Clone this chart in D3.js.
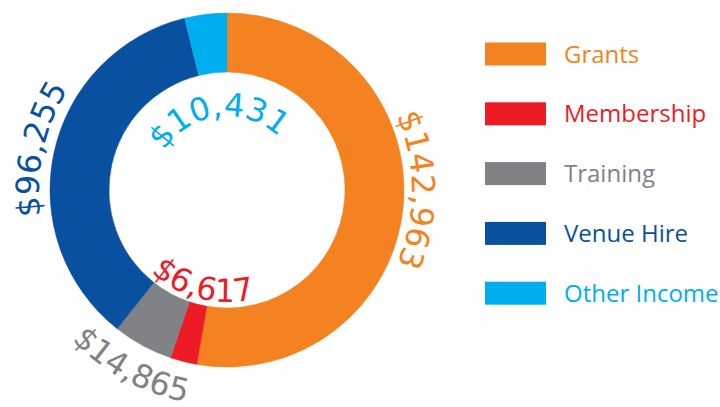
<!DOCTYPE html>
<html>
<head>
<meta charset="utf-8">
<script src="https://cdn.jsdelivr.net/npm/d3@7"></script>
<style>
  html, body { margin: 0; padding: 0; background: #fff; }
  #dataViz { width: 720px; height: 407px; }
</style>
</head>
<body>
<div id="dataViz"></div>
<script>
// Income sources
const categories = ["Grants", "Membership", "Training", "Venue Hire", "Other Income"];
const amounts = [142963, 6617, 14865, 96255, 10431];
const colours = ["#F58220", "#ED1C24", "#808285", "#0A50A1", "#00AEEF"];

const width = 720;
const height = 407;
const centre = { x: 227, y: 190 };
const outerRadius = 177;
const innerRadius = 118;

// where each value label sits: baseline radius, flip for the bottom half, angle nudge (deg)
const labelStyle = [
  { r: 185, flip: false, nudge: -5 },
  { r: 112, flip: true, nudge: 0 },
  { r: 216, flip: true, nudge: 0 },
  { r: 188, flip: false, nudge: 0 },
  { r: 74, flip: false, nudge: 0 }
];

const data = categories.map((c, i) => ({ name: c, value: amounts[i], colour: colours[i] }));

const svg = d3.select("#dataViz").append("svg")
  .attr("width", width)
  .attr("height", height)
  .attr("viewBox", [0, 0, width, height]);

const pie = d3.pie().sort(null).value(d => d.value);
const arc = d3.arc().innerRadius(innerRadius).outerRadius(outerRadius);
const arcs = pie(data);

const g = svg.append("g").attr("transform", `translate(${centre.x}, ${centre.y})`);

g.selectAll(".slice")
  .data(arcs)
  .enter()
  .append("path")
  .attr("class", "slice")
  .attr("d", arc)
  .attr("fill", d => d.data.colour)
  .attr("stroke", d => d.data.colour)
  .attr("stroke-width", 0.5);

// curved label paths, drawn in the donut's own coordinates
const pt = (r, a) => [r * Math.sin(a), -r * Math.cos(a)];
const span = 85 * Math.PI / 180;

const defs = g.append("defs");
arcs.forEach((d, i) => {
  const s = labelStyle[i];
  const mid = (d.startAngle + d.endAngle) / 2 + s.nudge * Math.PI / 180;
  const a0 = pt(s.r, mid - span);
  const a1 = pt(s.r, mid + span);
  const path = s.flip
    ? `M${a1[0]},${a1[1]} A${s.r},${s.r} 0 0 0 ${a0[0]},${a0[1]}`
    : `M${a0[0]},${a0[1]} A${s.r},${s.r} 0 0 1 ${a1[0]},${a1[1]}`;
  defs.append("path")
    .attr("id", "lp" + i)
    .attr("d", path);
});

const fmt = d3.format("$,");

g.selectAll(".value-label")
  .data(arcs)
  .enter()
  .append("text")
  .attr("class", "value-label")
  .style("font-family", "'DejaVu Sans', sans-serif")
  .style("font-size", "32px")
  .attr("fill", d => d.data.colour)
  .append("textPath")
  .attr("href", (d, i) => "#lp" + i)
  .attr("startOffset", "50%")
  .attr("text-anchor", "middle")
  .text(d => fmt(d.data.value));

// Legend
const legend = svg.append("g").attr("transform", "translate(485, 54)");
const rowGap = 59.8;

legend.selectAll("rect")
  .data(data)
  .enter()
  .append("rect")
  .attr("x", 0)
  .attr("y", (d, i) => i * rowGap - 11.5)
  .attr("width", 61)
  .attr("height", 23)
  .attr("fill", d => d.colour);

legend.selectAll("text")
  .data(data)
  .enter()
  .append("text")
  .attr("x", 79)
  .attr("y", (d, i) => i * rowGap)
  .attr("dy", "0.36em")
  .style("font-family", "'Open Sans', sans-serif")
  .style("font-size", "24px")
  .attr("fill", d => d.colour)
  .text(d => d.name);
</script>
</body>
</html>
